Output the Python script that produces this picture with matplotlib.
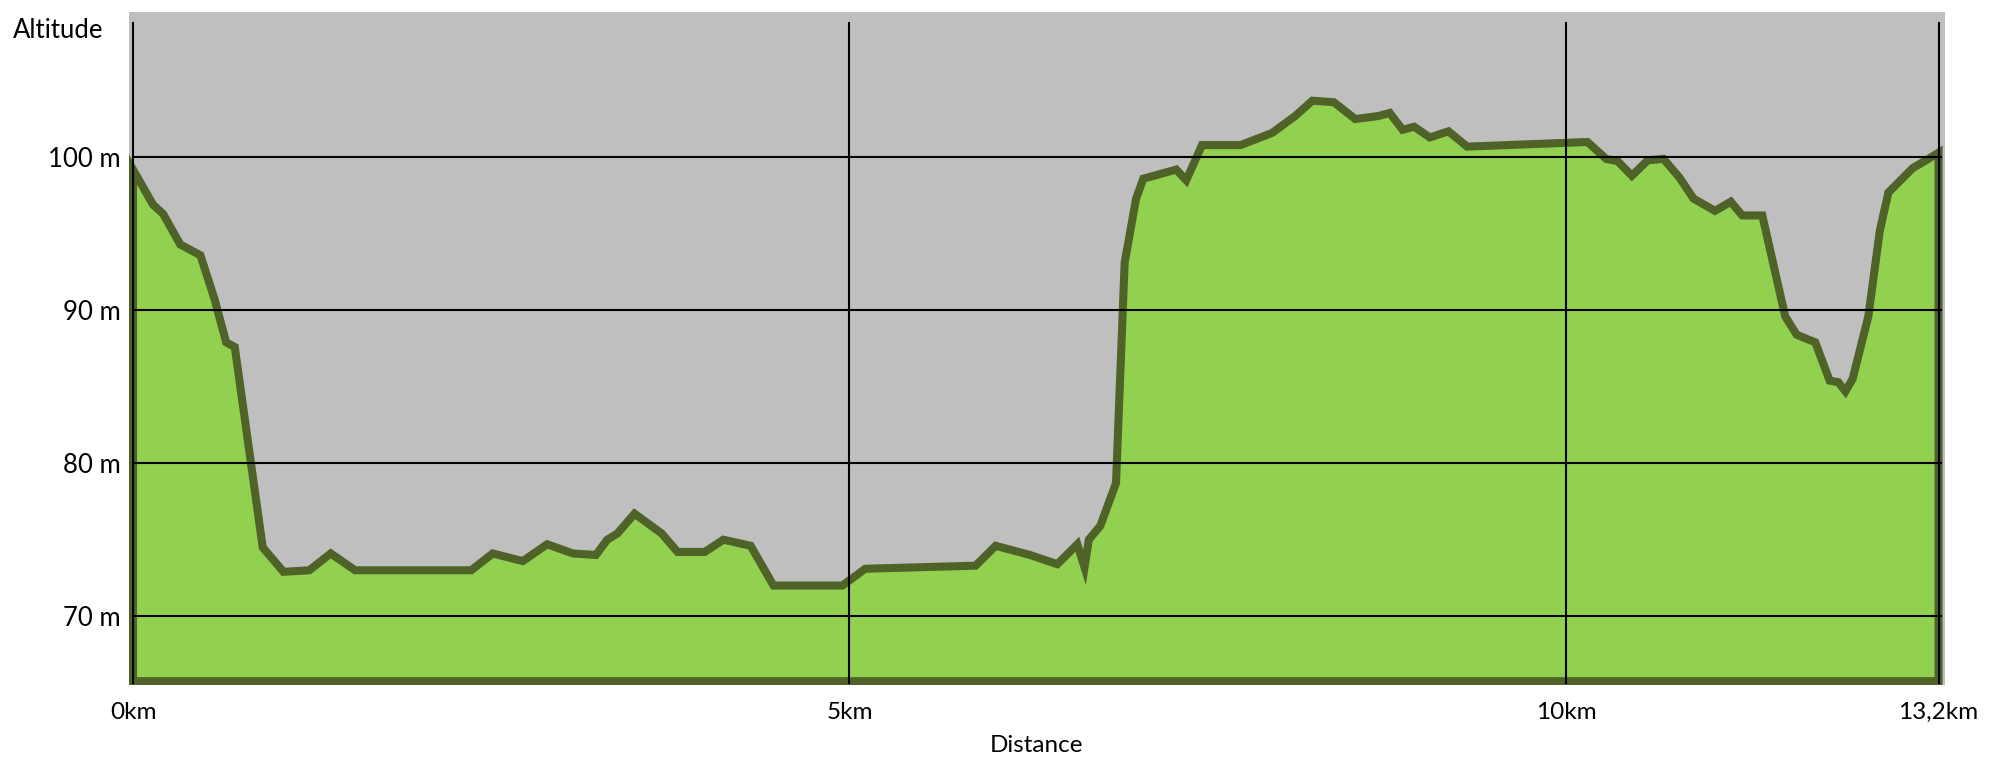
import matplotlib.pyplot as plt
from matplotlib.patches import Polygon

plt.rcParams["font.family"] = ["Lato", "DejaVu Sans"]

# distance (km, position on chart) and altitude (m)
distance = [
    0.00, 0.14, 0.21, 0.33, 0.47, 0.57, 0.65, 0.71, 0.905, 1.05,
    1.23, 1.38, 1.55, 2.36, 2.51, 2.72, 2.89, 3.07, 3.23, 3.31,
    3.38, 3.50, 3.69, 3.80, 3.99, 4.12, 4.31, 4.47, 4.95, 5.11,
    5.88, 6.02, 6.26, 6.45, 6.59, 6.64, 6.67, 6.75, 6.86, 6.92,
    7.00, 7.05, 7.28, 7.35, 7.46, 7.73, 7.95, 8.11, 8.23, 8.38,
    8.53, 8.69, 8.77, 8.86, 8.94, 9.05, 9.18, 9.31, 10.15, 10.28,
    10.36, 10.46, 10.57, 10.68, 10.79, 10.89, 11.04, 11.15, 11.23, 11.37,
    11.53, 11.61, 11.74, 11.84, 11.90, 11.95, 12.00, 12.11, 12.19, 12.25,
    12.42, 12.53, 12.60,
]
altitude = [
    99.2, 96.9, 96.3, 94.3, 93.6, 90.7, 87.9, 87.6, 74.5, 72.9,
    73.0, 74.1, 73.0, 73.0, 74.1, 73.6, 74.7, 74.1, 74.0, 75.0,
    75.4, 76.7, 75.4, 74.2, 74.2, 75.0, 74.6, 72.0, 72.0, 73.1,
    73.3, 74.6, 74.0, 73.4, 74.7, 73.2, 75.0, 75.9, 78.7, 93.1,
    97.3, 98.6, 99.2, 98.5, 100.8, 100.8, 101.6, 102.7, 103.7, 103.6,
    102.5, 102.7, 102.9, 101.8, 102.0, 101.3, 101.7, 100.7, 101.0, 99.9,
    99.75, 98.8, 99.8, 99.9, 98.7, 97.3, 96.5, 97.1, 96.2, 96.2,
    89.6, 88.4, 87.9, 85.4, 85.3, 84.7, 85.5, 89.6, 95.2, 97.7,
    99.3, 99.9, 100.3,
]

x_ticks = [0, 5, 10, 12.6]
x_labels = ["0km", "5km", "10km", "13,2km"]
y_ticks = [70, 80, 90, 100]
y_labels = ["70 m", "80 m", "90 m", "100 m"]

base = 65.75
fill_color = "#92D050"
edge_color = "#4F6228"

fig = plt.figure(figsize=(20, 7.6), dpi=100)
ax = fig.add_axes([0.0645, 0.0987, 0.908, 0.8855])
ax.set_facecolor("#BFBFBF")
ax.set_xlim(-0.028, 12.645)
ax.set_ylim(65.5, 109.5)

pts = [(distance[0], base)] + list(zip(distance, altitude)) + [(distance[-1], base)]
poly = Polygon(pts, closed=True, facecolor=fill_color, edgecolor=edge_color,
               linewidth=5.8, zorder=2)
ax.add_patch(poly)

# grid drawn over the area
for y in y_ticks:
    ax.plot([0, 12.62], [y, y], color="black", lw=1.5, zorder=3)
for x in x_ticks:
    ax.plot([x, x], [65.6, 108.8], color="black", lw=1.5, zorder=3)

ax.set_xticks(x_ticks)
ax.set_xticklabels(x_labels, fontsize=17.5)
ax.set_yticks(y_ticks)
ax.set_yticklabels(y_labels, fontsize=18.5)
ax.tick_params(axis="both", length=0)
ax.tick_params(axis="x", pad=12)
ax.tick_params(axis="y", pad=6)
for s in ax.spines.values():
    s.set_visible(False)

fig.text(13 / 2000, 1 - 30 / 760, "Altitude", fontsize=18.5, va="center", ha="left")
fig.text(1036 / 2000, 1 - 746 / 760, "Distance", fontsize=17.5, va="center", ha="center")

fig.savefig("out.png", dpi=100, facecolor="white")
